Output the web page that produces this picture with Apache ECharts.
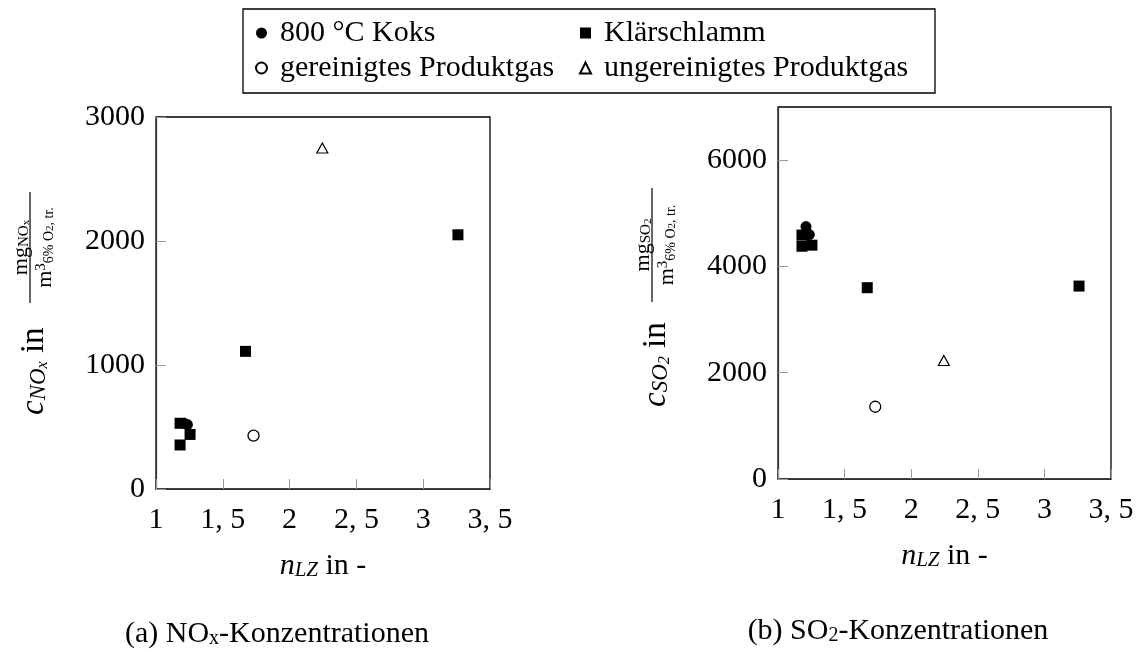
<!DOCTYPE html>
<html>
<head>
<meta charset="utf-8">
<script src="https://cdn.jsdelivr.net/npm/echarts@6/dist/echarts.min.js"></script>
<style>
html, body { margin: 0; padding: 0; background: #fff; }
#chart { width: 1139px; height: 652px; }
</style>
</head>
<body>
<div id="chart"></div>
<script>
// Luftzahl n_LZ und Konzentrationen der einzelnen Versuche
const koksN = [1.21, 1.235];
const koksNOx = [530, 520];
const koksSO2 = [4750, 4600];

const klsN = [1.18, 1.255, 1.18, 1.67, 3.26];
const klsNOx = [530, 440, 355, 1110, 2050];
const klsSO2 = [4590, 4400, 4380, 3600, 3630];

const gerN = [1.73];
const gerNOx = [430];
const gerSO2 = [1360];

const ungerN = [2.245];
const ungerNOx = [2750];
const ungerSO2 = [2230];

const names = ['800 °C Koks', 'Klärschlamm', 'gereinigtes Produktgas', 'ungereinigtes Produktgas'];

const nTicks = [1, 1.5, 2, 2.5, 3, 3.5];
const noxTicks = [0, 1000, 2000, 3000];
const so2Ticks = [0, 2000, 4000, 6000];
const so2Max = 7000;

const FONT = 'Liberation Serif';
const FS = 30;

const zip = (xs, ys) => xs.map((x, i) => [x, ys[i]]);

function mkX(idx) {
  return {
    type: 'value', gridIndex: idx,
    min: nTicks[0], max: nTicks[nTicks.length - 1], interval: nTicks[1] - nTicks[0],
    axisLine: { show: true, lineStyle: { color: '#333', width: 1.2 } },
    axisTick: { show: true, inside: true, length: 10, lineStyle: { color: '#999' } },
    splitLine: { show: false },
    axisLabel: {
      color: '#000', fontFamily: FONT, fontSize: FS, margin: 16, hideOverlap: false,
      formatter: v => String(v).replace('.', ', ')
    },
    name: '{i|n}{s|LZ}{r| in -}',
    nameLocation: 'middle',
    nameGap: 62,
    nameTextStyle: {
      rich: {
        i: { fontFamily: FONT, fontStyle: 'italic', fontSize: FS, color: '#000' },
        s: { fontFamily: FONT, fontStyle: 'italic', fontSize: 21, color: '#000', verticalAlign: 'bottom' },
        r: { fontFamily: FONT, fontSize: FS, color: '#000' }
      }
    }
  };
}

function mkY(idx, ticks, max) {
  return {
    type: 'value', gridIndex: idx,
    min: ticks[0], max: max, interval: ticks[1] - ticks[0],
    axisLine: { show: true, lineStyle: { color: '#333', width: 1.2 } },
    axisTick: { show: true, inside: true, length: 10, lineStyle: { color: '#999' } },
    splitLine: { show: false },
    axisLabel: {
      color: '#000', fontFamily: FONT, fontSize: FS, margin: 11, hideOverlap: false,
      showMaxLabel: max === ticks[ticks.length - 1],
      formatter: v => String(v)
    }
  };
}

const styles = [
  { symbol: 'circle', symbolSize: 11, itemStyle: { color: '#000', opacity: 1 }, z: 4 },
  { symbol: 'rect', symbolSize: 11, itemStyle: { color: '#000', opacity: 1 }, z: 3 },
  { symbol: 'circle', symbolSize: 11, itemStyle: { color: '#fff', borderColor: '#000', borderWidth: 1.3, opacity: 1 }, z: 3 },
  { symbol: 'triangle', symbolSize: [11, 10], itemStyle: { color: '#fff', borderColor: '#000', borderWidth: 1.2, opacity: 1 }, z: 3 }
];

const left = [zip(koksN, koksNOx), zip(klsN, klsNOx), zip(gerN, gerNOx), zip(ungerN, ungerNOx)];
const right = [zip(koksN, koksSO2), zip(klsN, klsSO2), zip(gerN, gerSO2), zip(ungerN, ungerSO2)];

const series = [];
[left, right].forEach((sets, g) => {
  sets.forEach((d, i) => {
    series.push(Object.assign({
      type: 'scatter', name: names[i], xAxisIndex: g, yAxisIndex: g, data: d
    }, styles[i]));
  });
});

const sub = (size, italic) => ({
  fontFamily: FONT, fontSize: size, fontStyle: italic ? 'italic' : 'normal',
  fill: '#000', color: '#000', verticalAlign: 'bottom'
});
const txt = (size, italic) => ({
  fontFamily: FONT, fontSize: size, fontStyle: italic ? 'italic' : 'normal', fill: '#000', color: '#000'
});

// y-Achsenbeschriftung mit Bruch, um 90 Grad gedreht
function yLabel(x0, y0, mainText, numText, lineFrom, lineTo) {
  const mid = (lineFrom + lineTo) / 2;
  return {
    type: 'group', x: x0, y: y0, rotation: Math.PI / 2,
    children: [
      {
        type: 'text', x: 0, y: 34,
        style: {
          text: mainText, align: 'left', verticalAlign: 'middle',
          textAlign: 'left', textVerticalAlign: 'middle',
          rich: { i: txt(33, true), s: sub(23, true), ss: sub(16, true), r: txt(33, false) }
        }
      },
      {
        type: 'line', shape: { x1: lineFrom, y1: 30, x2: lineTo, y2: 30 },
        style: { stroke: '#000', lineWidth: 1.2 }
      },
      {
        type: 'text', x: mid, y: 21,
        style: {
          text: numText, align: 'center', verticalAlign: 'middle',
          textAlign: 'center', textVerticalAlign: 'middle',
          rich: { m: txt(22, false), s: sub(15, false), ss: sub(11, false) }
        }
      },
      {
        type: 'text', x: mid, y: 45,
        style: {
          text: '{m|m}{p|3}{s|6% O}{ss|2}{s|, tr.}', align: 'center', verticalAlign: 'middle',
          textAlign: 'center', textVerticalAlign: 'middle',
          rich: {
            m: txt(22, false),
            p: Object.assign(txt(15, false), { verticalAlign: 'top' }),
            s: sub(14, false), ss: sub(11, false)
          }
        }
      }
    ]
  };
}

function caption(x, y, text) {
  return {
    type: 'text', x: x, y: y,
    style: {
      text: text, align: 'center', verticalAlign: 'middle',
      textAlign: 'center', textVerticalAlign: 'middle',
      rich: { r: txt(FS, false), s: sub(20, false) }
    }
  };
}

const option = {
  animation: false,
  backgroundColor: '#fff',
  grid: [
    { left: 156, top: 117, width: 334, height: 372, show: true, borderColor: '#000', borderWidth: 1.3, outerBoundsMode: 'none' },
    { left: 778, top: 107, width: 333, height: 372, show: true, borderColor: '#000', borderWidth: 1.3, outerBoundsMode: 'none' }
  ],
  xAxis: [mkX(0), mkX(1)],
  yAxis: [mkY(0, noxTicks, noxTicks[noxTicks.length - 1]), mkY(1, so2Ticks, so2Max)],
  legend: [
    {
      data: [names[0], names[2]], left: 255, top: 18, orient: 'vertical', selectedMode: false,
      itemWidth: 11, itemHeight: 11, itemGap: 5, padding: 0,
      textStyle: { fontFamily: FONT, fontSize: FS, color: '#000', padding: [0, 0, 0, 8] }
    },
    {
      data: [names[1], names[3]], left: 579, top: 18, orient: 'vertical', selectedMode: false,
      itemWidth: 11, itemHeight: 11, itemGap: 5, padding: 0,
      textStyle: { fontFamily: FONT, fontSize: FS, color: '#000', padding: [0, 0, 0, 8] }
    }
  ],
  graphic: [
    {
      type: 'rect', shape: { x: 243, y: 9, width: 692, height: 84 },
      style: { fill: 'none', stroke: '#000', lineWidth: 1.3 }
    },
    yLabel(0, 415, '{i|c}{s|NO}{ss|x}{r| in}', '{m|mg}{s|NO}{ss|x}', 112, 223),
    yLabel(622, 407, '{i|c}{s|SO}{ss|2}{r| in}', '{m|mg}{s|SO}{ss|2}', 105, 219),
    caption(277, 634, '{r|(a) NO}{s|x}{r|-Konzentrationen}'),
    caption(898, 631, '{r|(b) SO}{s|2}{r|-Konzentrationen}')
  ],
  series: series
};

const chart = echarts.init(document.getElementById('chart'));
chart.setOption(option);
</script>
</body>
</html>
